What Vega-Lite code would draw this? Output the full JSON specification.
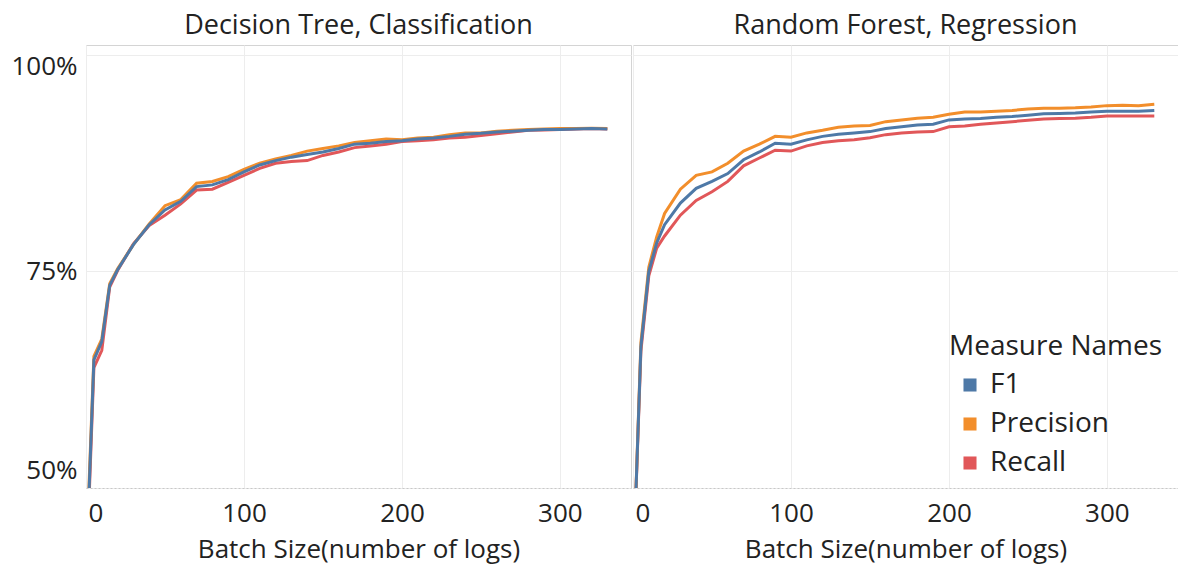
{
  "$schema": "https://vega.github.io/schema/vega-lite/v6.json",
  "padding": {"left": 10, "top": 12, "right": 0, "bottom": 4},
  "background": "white",
  "data": {"values": [
    {"model":"Decision Tree, Classification","batch":1,"F1":45,"Precision":46,"Recall":44},
    {"model":"Decision Tree, Classification","batch":5,"F1":64.8,"Precision":65.2,"Recall":63.9},
    {"model":"Decision Tree, Classification","batch":10,"F1":66.9,"Precision":67.2,"Recall":65.9},
    {"model":"Decision Tree, Classification","batch":15,"F1":73.4,"Precision":73.6,"Recall":73.2},
    {"model":"Decision Tree, Classification","batch":20,"F1":75.2,"Precision":75.3,"Recall":75.1},
    {"model":"Decision Tree, Classification","batch":30,"F1":78.1,"Precision":78.1,"Recall":78.2},
    {"model":"Decision Tree, Classification","batch":40,"F1":80.4,"Precision":80.5,"Recall":80.3},
    {"model":"Decision Tree, Classification","batch":50,"F1":82.1,"Precision":82.6,"Recall":81.5},
    {"model":"Decision Tree, Classification","batch":60,"F1":83.1,"Precision":83.3,"Recall":82.8},
    {"model":"Decision Tree, Classification","batch":70,"F1":84.8,"Precision":85.2,"Recall":84.4},
    {"model":"Decision Tree, Classification","batch":80,"F1":85.0,"Precision":85.4,"Recall":84.5},
    {"model":"Decision Tree, Classification","batch":90,"F1":85.6,"Precision":85.95,"Recall":85.3},
    {"model":"Decision Tree, Classification","batch":100,"F1":86.5,"Precision":86.8,"Recall":86.1},
    {"model":"Decision Tree, Classification","batch":110,"F1":87.3,"Precision":87.5,"Recall":86.9},
    {"model":"Decision Tree, Classification","batch":120,"F1":87.8,"Precision":88.0,"Recall":87.5},
    {"model":"Decision Tree, Classification","batch":130,"F1":88.2,"Precision":88.4,"Recall":87.7},
    {"model":"Decision Tree, Classification","batch":140,"F1":88.5,"Precision":88.9,"Recall":87.8},
    {"model":"Decision Tree, Classification","batch":150,"F1":88.8,"Precision":89.2,"Recall":88.4},
    {"model":"Decision Tree, Classification","batch":160,"F1":89.2,"Precision":89.5,"Recall":88.8},
    {"model":"Decision Tree, Classification","batch":170,"F1":89.7,"Precision":89.9,"Recall":89.3},
    {"model":"Decision Tree, Classification","batch":180,"F1":89.8,"Precision":90.1,"Recall":89.5},
    {"model":"Decision Tree, Classification","batch":190,"F1":90.0,"Precision":90.3,"Recall":89.7},
    {"model":"Decision Tree, Classification","batch":200,"F1":90.1,"Precision":90.2,"Recall":90.0},
    {"model":"Decision Tree, Classification","batch":210,"F1":90.3,"Precision":90.4,"Recall":90.1},
    {"model":"Decision Tree, Classification","batch":220,"F1":90.4,"Precision":90.5,"Recall":90.2},
    {"model":"Decision Tree, Classification","batch":230,"F1":90.6,"Precision":90.8,"Recall":90.4},
    {"model":"Decision Tree, Classification","batch":240,"F1":90.85,"Precision":91.0,"Recall":90.5},
    {"model":"Decision Tree, Classification","batch":250,"F1":90.95,"Precision":91.0,"Recall":90.7},
    {"model":"Decision Tree, Classification","batch":260,"F1":91.1,"Precision":91.2,"Recall":90.9},
    {"model":"Decision Tree, Classification","batch":270,"F1":91.2,"Precision":91.3,"Recall":91.1},
    {"model":"Decision Tree, Classification","batch":280,"F1":91.3,"Precision":91.4,"Recall":91.3},
    {"model":"Decision Tree, Classification","batch":290,"F1":91.4,"Precision":91.45,"Recall":91.35},
    {"model":"Decision Tree, Classification","batch":300,"F1":91.4,"Precision":91.5,"Recall":91.4},
    {"model":"Decision Tree, Classification","batch":310,"F1":91.45,"Precision":91.5,"Recall":91.45},
    {"model":"Decision Tree, Classification","batch":320,"F1":91.5,"Precision":91.55,"Recall":91.5},
    {"model":"Decision Tree, Classification","batch":330,"F1":91.45,"Precision":91.5,"Recall":91.45},
    {"model":"Random Forest, Regression","batch":1,"F1":45,"Precision":45,"Recall":45},
    {"model":"Random Forest, Regression","batch":5,"F1":66.3,"Precision":66.8,"Recall":65.8},
    {"model":"Random Forest, Regression","batch":10,"F1":75.0,"Precision":75.5,"Recall":74.5},
    {"model":"Random Forest, Regression","batch":15,"F1":78.3,"Precision":79.0,"Recall":77.7},
    {"model":"Random Forest, Regression","batch":20,"F1":80.4,"Precision":81.7,"Recall":79.1},
    {"model":"Random Forest, Regression","batch":30,"F1":82.9,"Precision":84.5,"Recall":81.5},
    {"model":"Random Forest, Regression","batch":40,"F1":84.6,"Precision":86.1,"Recall":83.2},
    {"model":"Random Forest, Regression","batch":50,"F1":85.4,"Precision":86.5,"Recall":84.2},
    {"model":"Random Forest, Regression","batch":60,"F1":86.3,"Precision":87.5,"Recall":85.4},
    {"model":"Random Forest, Regression","batch":70,"F1":87.9,"Precision":88.9,"Recall":87.2},
    {"model":"Random Forest, Regression","batch":80,"F1":88.8,"Precision":89.7,"Recall":88.1},
    {"model":"Random Forest, Regression","batch":90,"F1":89.8,"Precision":90.6,"Recall":89.0},
    {"model":"Random Forest, Regression","batch":100,"F1":89.7,"Precision":90.5,"Recall":88.9},
    {"model":"Random Forest, Regression","batch":110,"F1":90.2,"Precision":91.0,"Recall":89.5},
    {"model":"Random Forest, Regression","batch":120,"F1":90.6,"Precision":91.3,"Recall":89.9},
    {"model":"Random Forest, Regression","batch":130,"F1":90.85,"Precision":91.65,"Recall":90.1},
    {"model":"Random Forest, Regression","batch":140,"F1":91.0,"Precision":91.8,"Recall":90.2},
    {"model":"Random Forest, Regression","batch":150,"F1":91.15,"Precision":91.85,"Recall":90.45},
    {"model":"Random Forest, Regression","batch":160,"F1":91.5,"Precision":92.3,"Recall":90.8},
    {"model":"Random Forest, Regression","batch":170,"F1":91.7,"Precision":92.5,"Recall":91.0},
    {"model":"Random Forest, Regression","batch":180,"F1":91.9,"Precision":92.7,"Recall":91.1},
    {"model":"Random Forest, Regression","batch":190,"F1":92.0,"Precision":92.8,"Recall":91.15},
    {"model":"Random Forest, Regression","batch":200,"F1":92.5,"Precision":93.15,"Recall":91.7},
    {"model":"Random Forest, Regression","batch":210,"F1":92.6,"Precision":93.4,"Recall":91.8},
    {"model":"Random Forest, Regression","batch":220,"F1":92.65,"Precision":93.4,"Recall":92.0},
    {"model":"Random Forest, Regression","batch":230,"F1":92.8,"Precision":93.5,"Recall":92.15},
    {"model":"Random Forest, Regression","batch":240,"F1":92.9,"Precision":93.6,"Recall":92.3},
    {"model":"Random Forest, Regression","batch":250,"F1":93.05,"Precision":93.75,"Recall":92.45},
    {"model":"Random Forest, Regression","batch":260,"F1":93.2,"Precision":93.85,"Recall":92.6},
    {"model":"Random Forest, Regression","batch":270,"F1":93.25,"Precision":93.85,"Recall":92.65},
    {"model":"Random Forest, Regression","batch":280,"F1":93.3,"Precision":93.9,"Recall":92.7},
    {"model":"Random Forest, Regression","batch":290,"F1":93.4,"Precision":94.0,"Recall":92.8},
    {"model":"Random Forest, Regression","batch":300,"F1":93.5,"Precision":94.15,"Recall":92.95},
    {"model":"Random Forest, Regression","batch":310,"F1":93.5,"Precision":94.2,"Recall":92.95},
    {"model":"Random Forest, Regression","batch":320,"F1":93.5,"Precision":94.15,"Recall":92.95},
    {"model":"Random Forest, Regression","batch":330,"F1":93.6,"Precision":94.3,"Recall":92.95}
  ]},
  "transform": [{"fold": ["Recall", "Precision", "F1"], "as": ["measure", "value"]}],
  "facet": {
    "column": {
      "field": "model", "type": "nominal",
      "sort": ["Decision Tree, Classification", "Random Forest, Regression"],
      "header": {"title": null, "labelFont": "Open Sans", "labelFontSize": 27, "labelColor": "#222", "labelPadding": 4, "labelLimit": 1000}
    }
  },
  "spacing": 0,
  "resolve": {"axis": {"x": "independent"}},
  "spec": {
    "width": 545,
    "height": 443,
    "mark": {"type": "line", "strokeWidth": 3, "clip": true},
    "encoding": {
      "x": {
        "field": "batch", "type": "quantitative",
        "scale": {"domain": [0, 345], "nice": false, "zero": false},
        "axis": {
          "values": [0, 100, 200, 300],
          "title": "Batch Size(number of logs)",
          "labelFontSize": 26, "titleFontSize": 26, "titleLimit": 1000,
          "labelPadding": 12, "titlePadding": 10,
          "labelAlign": {"condition": {"test": "datum.value == 0", "value": "left"}, "value": "center"},
          "labelOffset": {"condition": {"test": "datum.value == 0", "value": 2}, "value": 0},
          "domain": true, "domainColor": "#c8c8c8", "domainDash": [2, 2]
        }
      },
      "y": {
        "field": "value", "type": "quantitative",
        "scale": {"domain": [50, 101.15], "nice": false, "zero": false},
        "axis": {
          "values": [50, 75, 100],
          "labelExpr": "datum.value + '%'",
          "title": null,
          "labelFontSize": 26,
          "labelPadding": 8,
          "labelOffset": {"condition": [{"test": "datum.value == 100", "value": 12}, {"test": "datum.value == 50", "value": -18}], "value": 0}
        }
      },
      "color": {
        "field": "measure", "type": "nominal",
        "scale": {"domain": ["F1", "Precision", "Recall"], "range": ["#4e79a7", "#f28e2b", "#e15759"]},
        "legend": {
          "orient": "none", "legendX": 863, "legendY": 288,
          "title": "Measure Names", "titleLimit": 400, "labelLimit": 300,
          "titleFontSize": 28, "titleFontWeight": "normal", "titleColor": "#222", "titleFont": "Open Sans",
          "labelFontSize": 28, "labelColor": "#222", "labelFont": "Open Sans",
          "symbolType": "square", "symbolSize": 170, "symbolStrokeWidth": 0,
          "symbolOffset": 7, "labelOffset": 6, "rowPadding": 11, "titlePadding": 10,
          "encode": {"symbols": {"update": {"fill": {"scale": "color", "field": "value"}, "strokeWidth": {"value": 0}, "opacity": {"value": 1}}}}
        }
      }
    }
  },
  "config": {
    "font": "Open Sans",
    "view": {"stroke": "#d4d4d4", "strokeWidth": 1},
    "axis": {"labelFont": "Open Sans", "titleFont": "Open Sans", "labelColor": "#222", "titleColor": "#222", "titleFontWeight": "normal", "ticks": false, "gridColor": "#ededed", "domain": false}
  }
}
